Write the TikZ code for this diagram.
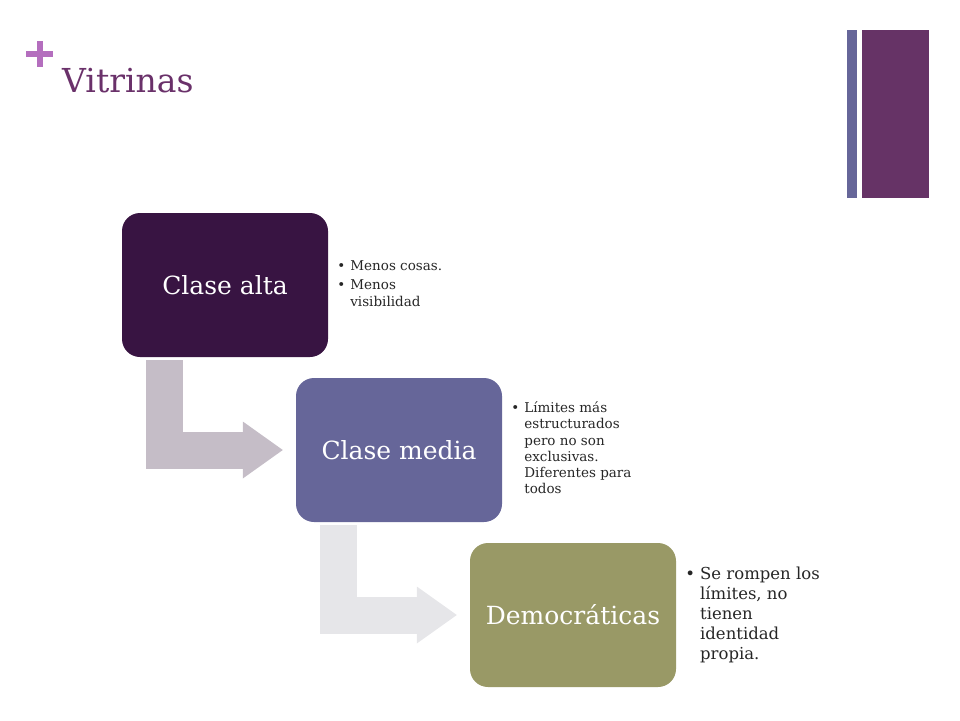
\documentclass[tikz,border=0pt]{standalone}
\usepackage{fontspec}
\setmainfont{DejaVu Serif}
\usetikzlibrary{arrows.meta,positioning}
\definecolor{colTitulo}{HTML}{6A316A}
\definecolor{colMas}{HTML}{B46EBE}
\definecolor{colBarra}{HTML}{666699}
\definecolor{colBarraAncha}{HTML}{663366}
\definecolor{colAlta}{HTML}{381442}
\definecolor{colMedia}{HTML}{666699}
\definecolor{colDemo}{HTML}{999966}
\definecolor{colFlechaA}{HTML}{C5BDC7}
\definecolor{colFlechaB}{HTML}{E6E6E9}
\tikzset{box/.style={rounded corners=18pt,minimum width=206pt,minimum height=144pt,inner sep=0pt,text=white,font=\fontsize{25}{30}\selectfont}}
\tikzset{nota/.style={anchor=west,inner sep=0pt,text=black!85,align=left}}
\tikzset{bent/.style={line width=37pt,line join=miter,-{Triangle[length=40pt,width=57pt,line width=0pt]}}}

\begin{document}
\begin{tikzpicture}[x=1pt,y=-1pt,on grid]
        \useasboundingbox (0,0) rectangle (960,720);
        \draw[colMas,line width=6pt] (26,54) -- (53,54) (39.5,41) -- (39.5,67);
        \node(titulo)[anchor=base west,inner sep=0pt,text=colTitulo,font=\fontsize{33}{40}\selectfont] at (62,92) {Vitrinas};
        \fill[colBarra] (847,30) rectangle (857,198);
        \fill[colBarraAncha] (862,30) rectangle (929,198);
        \node(alta)[box,fill=colAlta] at (225,285) {Clase alta};
        \node(media)[box,fill=colMedia,below right=165pt and 174pt of alta] {Clase media};
        \node(demo)[box,fill=colDemo,below right=165pt and 174pt of media] {Democráticas};
        \draw[bent,draw=colFlechaA,shorten <=3pt,shorten >=13pt]
        ([xshift=42.5pt]alta.south west) |- (media.west);
        \draw[bent,draw=colFlechaB,shorten <=3pt,shorten >=13pt]
        ([xshift=42.5pt]media.south west) |- (demo.west);
        \node(altanota)[nota,font=\fontsize{13.5}{17}\selectfont] at ([xshift=9pt]alta.east)
        {\begin{tabular}{@{}l@{\hspace{5pt}}l@{}}\textbullet&Menos cosas.\\[2pt]\textbullet&Menos\\&visibilidad\end{tabular}};
        \node(medianota)[nota,font=\fontsize{13.5}{16.2}\selectfont] at ([xshift=9pt]media.east)
        {\begin{tabular}{@{}l@{\hspace{5pt}}l@{}}\textbullet&Límites más\\&estructurados\\&pero no son\\&exclusivas.\\&Diferentes para\\&todos\end{tabular}};
        \node(demonota)[nota,font=\fontsize{16.5}{20}\selectfont] at ([xshift=9pt]demo.east)
        {\begin{tabular}{@{}l@{\hspace{5pt}}l@{}}\textbullet&Se rompen los\\&límites, no\\&tienen\\&identidad\\&propia.\end{tabular}};
\end{tikzpicture}
\end{document}
